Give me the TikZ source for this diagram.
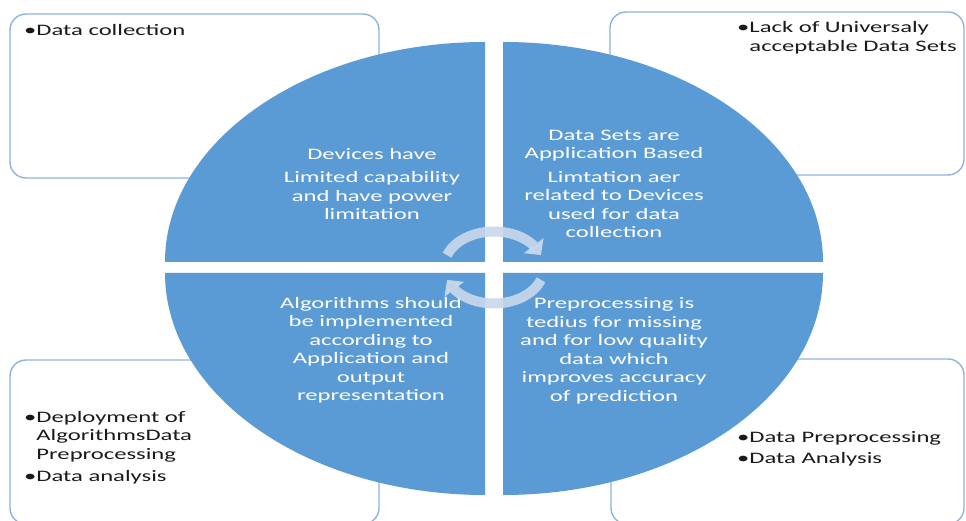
\documentclass[tikz,border=0pt]{standalone}
\usepackage{fontspec}
\setmainfont{Carlito}[FakeStretch=1.54]
\usetikzlibrary{arrows.meta,bending}
\definecolor{pieblue}{HTML}{5B9BD5}
\definecolor{boxline}{HTML}{8FB3E0}
\definecolor{arrowc}{HTML}{C9D8EC}
\definecolor{txtdark}{HTML}{1A1A1A}
\begin{document}
\begin{tikzpicture}[x=1pt,y=1pt,
  infobox/.style={draw=boxline, line width=1.4pt, rounded corners=16pt},
  pie/.style={fill=pieblue},
  pietext/.style={text=white, align=center, font=\fontsize{16}{18.5}\selectfont, inner sep=0pt},
  boxtext/.style={text=txtdark, align=left, font=\fontsize{16}{18.5}\selectfont, inner sep=0pt, anchor=west},
  cyclearrow/.style={draw=arrowc, line width=10pt, -{Triangle[width=24pt,length=12pt]}, opacity=0.9}]
\useasboundingbox (0,0) rectangle (966,520);
\clip (0,0) rectangle (966,520);
\fill[white] (0,0) rectangle (966,520);
% outer boxes
\draw[infobox] (10,342) rectangle (379,506);
\draw[infobox] (610,345) rectangle (964,508);
\draw[infobox] (10,-4) rectangle (379,160);
\draw[infobox] (611,-4) rectangle (964,161);
% pie quadrants
\fill[pie] (485,258) -- (165,258) arc[start angle=180, end angle=90, x radius=320, y radius=220] -- cycle;
\fill[pie] (503,258) -- (503,478) arc[start angle=90, end angle=0, x radius=320, y radius=220] -- cycle;
\fill[pie] (485,247) -- (485,25) arc[start angle=270, end angle=180, x radius=320, y radius=222] -- cycle;
\fill[pie] (503,247) -- (823,247) arc[start angle=0, end angle=-90, x radius=320, y radius=222] -- cycle;
% pie texts
\node[pietext] (q1) at (372,336) {Devices have\\[5pt]Limited capability\\and have power\\limitation};
\node[pietext] (q2) at (614,336) {Data Sets are\\Application Based\\[5pt]Limtation aer\\related to Devices\\used for data\\collection};
\node[pietext] (q3) at (371,170) {Algorithms should\\be implemented\\according to\\Application and\\output\\representation};
\node[pietext] (q4) at (614,169) {Preprocessing is\\tedius for missing\\and for low quality\\data which\\improves accuracy\\of prediction};
% box texts
\node[boxtext] (b1) at (24,490) {•Data collection};
\node[boxtext] (b2) at (737,482.5) {•Lack of Universaly\\\phantom{•}acceptable Data Sets};
\node[boxtext] (b3) at (24,72.5) {•Deployment of\\\phantom{•}AlgorithmsData\\\phantom{•}Preprocessing\\[3.5pt]•Data analysis};
\node[boxtext] (b4) at (737,71) {•Data Preprocessing\\[3pt]•Data Analysis};
% cycle arrows
\coordinate (hub) at (494,252.5);
\draw[cyclearrow] ([shift={(160:50 and 36)}]hub) arc[start angle=160, end angle=20, x radius=50, y radius=36];
\draw[cyclearrow] ([shift={(-20:50 and 36)}]hub) arc[start angle=-20, end angle=-160, x radius=50, y radius=36];
\end{tikzpicture}
\end{document}
